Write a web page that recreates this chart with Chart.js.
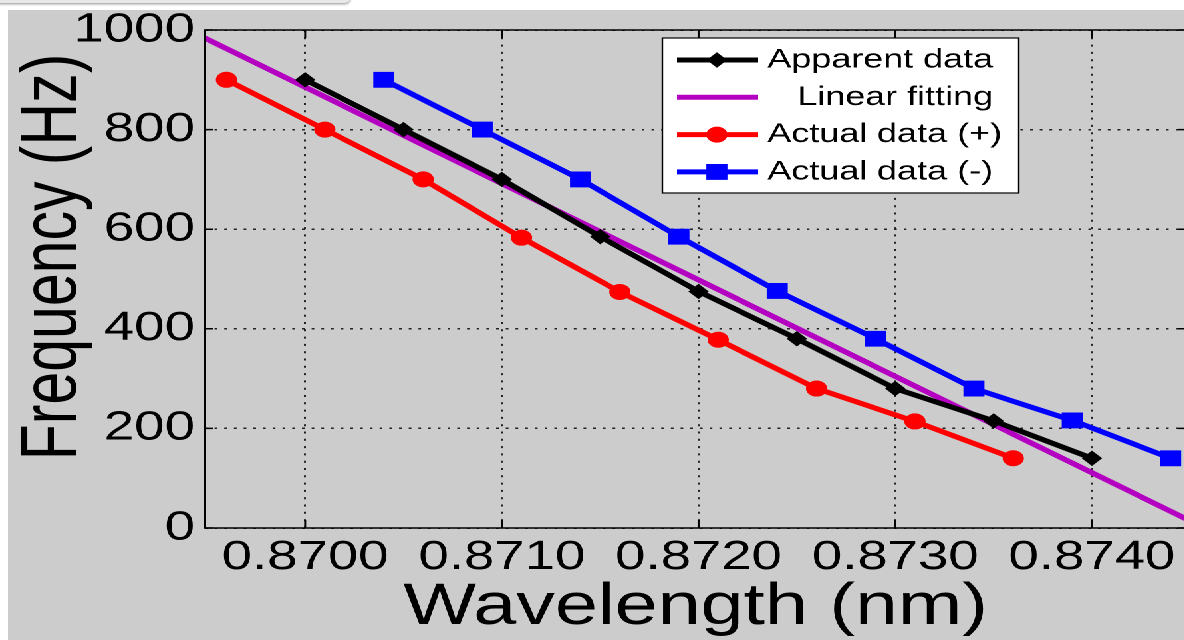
<!DOCTYPE html>
<html>
<head>
<meta charset="utf-8">
<title>Frequency vs wavelength</title>
<script src="https://cdn.jsdelivr.net/npm/chart.js@4.4.1/dist/chart.umd.min.js"></script>
<style>
    html, body { margin: 0; padding: 0; background: #fff; overflow: hidden; width: 1184px; height: 640px; }
    #tab { position: absolute; left: -10px; top: -16px; width: 360px; height: 19px; background: #e8e8e8; border-radius: 5px; box-shadow: 0 1px 3px rgba(0,0,0,0.45); }
    /* the source figure is stretched sideways, so the whole chart is too */
    #figure { position: absolute; left: 8px; top: 10px; width: 886px; height: 630px; background: #cccccc; transform: scaleX(1.33); transform-origin: 0 0; }
    #freqChart { display: block; width: 886px; height: 630px; }
</style>
</head>
<body>
<div id="tab"></div>
<div id="figure"><canvas id="freqChart" width="886" height="630"></canvas></div>
<script>
// datos
const wavelengthApparent = [0.8700, 0.8705, 0.8710, 0.8715, 0.8720, 0.8725, 0.8730, 0.8735, 0.8740];
const freqApparent = [900, 800, 700, 585, 475, 380, 280, 215, 140];

const wavelengthPlus = [0.8696, 0.8701, 0.8706, 0.8711, 0.8716, 0.8721, 0.8726, 0.8731, 0.8736];
const freqPlus = [900, 800, 700, 583, 474, 378, 280, 214, 140];

const wavelengthMinus = [0.8704, 0.8709, 0.8714, 0.8719, 0.8724, 0.8729, 0.8734, 0.8739, 0.8744];
const freqMinus = [900, 800, 700, 585, 476, 380, 280, 216, 140];

const wavelengthFit = [0.86949, 0.87448];
const freqFit = [984, 18];

const xTickValues = [0.8700, 0.8710, 0.8720, 0.8730, 0.8740];
const yTickValues = [0, 200, 400, 600, 800, 1000];
const xRange = [0.86949, 0.87448];
const yRange = [0, 1000];

const yTitle = 'Frequency (Hz)';
const xTitle = 'Wavelength (nm)';

const FONT = '"Liberation Sans", Arial, Helvetica, sans-serif';

function toPoints(xs, ys) {
    return xs.map((x, i) => ({ x: x, y: ys[i] }));
}

// caja del grafico con marcas hacia dentro, como en MATLAB
const framePlugin = {
    id: 'frame',
    afterDatasetsDraw(chart) {
        const { ctx, chartArea: a, scales } = chart;
        ctx.save();
        ctx.strokeStyle = '#000';
        ctx.lineWidth = 1.5;
        ctx.strokeRect(a.left, a.top, a.right - a.left, a.bottom - a.top);
        ctx.beginPath();
        xTickValues.forEach(v => {
            const px = scales.x.getPixelForValue(v);
            ctx.moveTo(px, a.bottom); ctx.lineTo(px, a.bottom - 8);
            ctx.moveTo(px, a.top); ctx.lineTo(px, a.top + 8);
        });
        yTickValues.forEach(v => {
            const py = scales.y.getPixelForValue(v);
            ctx.moveTo(a.left, py); ctx.lineTo(a.left + 6, py);
            ctx.moveTo(a.right, py); ctx.lineTo(a.right - 6, py);
        });
        ctx.stroke();

        // titulo del eje Y, un poco por encima del centro como en la figura
        ctx.fillStyle = '#000';
        ctx.font = '59px ' + FONT;
        ctx.textAlign = 'center';
        ctx.textBaseline = 'alphabetic';
        ctx.translate(51, 247);
        ctx.rotate(-Math.PI / 2);
        ctx.fillText(yTitle, 0, 0);
        ctx.restore();
    }
};

// leyenda dentro del area del grafico
const legendOrder = [0, 1, 2, 3];
const legendPlugin = {
    id: 'insideLegend',
    afterDraw(chart) {
        const { ctx, chartArea: a } = chart;
        const x0 = a.left + 344, y0 = a.top + 8, w = 268, h = 155;
        ctx.save();
        ctx.fillStyle = '#fff';
        ctx.fillRect(x0, y0, w, h);
        ctx.strokeStyle = '#000';
        ctx.lineWidth = 1.2;
        ctx.strokeRect(x0, y0, w, h);
        ctx.font = '27px ' + FONT;
        ctx.textBaseline = 'middle';
        ctx.textAlign = 'left';
        legendOrder.forEach((idx, row) => {
            const ds = chart.data.datasets[idx];
            const cy = y0 + 22 + row * 37.3;
            ctx.strokeStyle = ds.borderColor;
            ctx.lineWidth = ds.borderWidth;
            ctx.beginPath();
            ctx.moveTo(x0 + 11, cy);
            ctx.lineTo(x0 + 72, cy);
            ctx.stroke();
            if (ds.pointRadius > 0) {
                ctx.fillStyle = ds.backgroundColor;
                ctx.lineWidth = 1;
                Chart.helpers.drawPoint(ctx, { pointStyle: ds.pointStyle, radius: ds.pointRadius, borderWidth: 1, rotation: 0 }, x0 + 41, cy);
            }
            ctx.fillStyle = '#000';
            ctx.fillText(ds.label, x0 + 79, cy);
        });
        ctx.restore();
    }
};

const gridStyle = { color: '#222', lineWidth: 1.5, drawTicks: false };
const borderStyle = { display: false, dash: [2, 5.3] };

const ctx = document.getElementById('freqChart').getContext('2d');
new Chart(ctx, {
    type: 'scatter',
    data: {
        datasets: [
            {
                label: 'Apparent data',
                data: toPoints(wavelengthApparent, freqApparent),
                borderColor: '#000000',
                backgroundColor: '#000000',
                borderWidth: 5,
                pointStyle: 'rectRot',
                pointRadius: 7,
                pointBorderWidth: 1,
                showLine: true,
                order: 0
            },
            {
                label: '   Linear fitting',
                data: toPoints(wavelengthFit, freqFit),
                borderColor: '#b400c0',
                backgroundColor: '#b400c0',
                borderWidth: 5,
                pointRadius: 0,
                showLine: true,
                order: 1
            },
            {
                label: 'Actual data (+)',
                data: toPoints(wavelengthPlus, freqPlus),
                borderColor: '#ff0000',
                backgroundColor: '#ff0000',
                borderWidth: 5,
                pointStyle: 'circle',
                pointRadius: 7.5,
                pointBorderWidth: 1,
                showLine: true,
                order: 2
            },
            {
                label: 'Actual data (-)',
                data: toPoints(wavelengthMinus, freqMinus),
                borderColor: '#0000ff',
                backgroundColor: '#0000ff',
                borderWidth: 5,
                pointStyle: 'rect',
                pointRadius: 10.5,
                pointBorderWidth: 1,
                showLine: true,
                order: 3
            }
        ]
    },
    options: {
        responsive: false,
        animation: false,
        devicePixelRatio: 2,
        layout: { autoPadding: false, padding: { top: 20, left: 0, right: 0, bottom: 0 } },
        plugins: {
            legend: { display: false },
            tooltip: { enabled: false }
        },
        scales: {
            x: {
                type: 'linear',
                min: xRange[0],
                max: xRange[1],
                afterBuildTicks: s => { s.ticks = xTickValues.map(v => ({ value: v })); },
                afterFit: s => { s.height = 112; s.paddingLeft = 0; s.paddingRight = 0; },
                ticks: {
                    font: { size: 41, family: FONT },
                    color: '#000',
                    padding: 5,
                    maxRotation: 0,
                    autoSkip: false,
                    callback: v => v.toFixed(4)
                },
                grid: gridStyle,
                border: borderStyle,
                title: {
                    display: true,
                    text: xTitle,
                    color: '#000',
                    font: { size: 58, family: FONT, lineHeight: 1.1 },
                    padding: 0
                }
            },
            y: {
                type: 'linear',
                min: yRange[0],
                max: yRange[1],
                afterBuildTicks: s => { s.ticks = yTickValues.map(v => ({ value: v })); },
                afterFit: s => { s.width = 148; s.paddingTop = 0; s.paddingBottom = 0; },
                ticks: {
                    font: { size: 41, family: FONT, lineHeight: 0.9 },
                    color: '#000',
                    padding: 7.5,
                    callback: v => String(v)
                },
                grid: gridStyle,
                border: borderStyle,
                title: { display: false }
            }
        }
    },
    plugins: [framePlugin, legendPlugin]
});
</script>
</body>
</html>
